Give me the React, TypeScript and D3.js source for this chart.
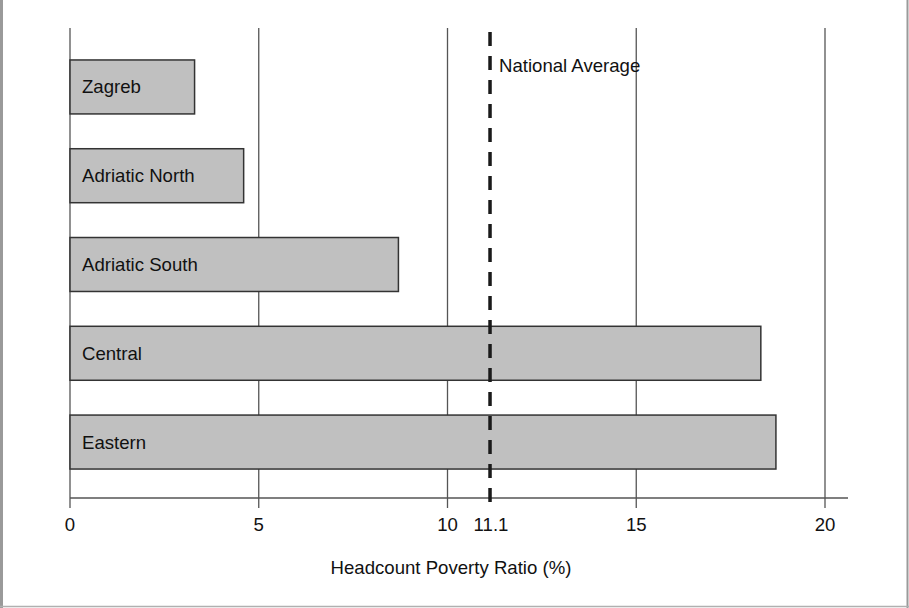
import React from 'react';
import * as d3 from 'd3';

const regions = ["Zagreb", "Adriatic North", "Adriatic South", "Central", "Eastern"];
const povertyRatio = [3.3, 4.6, 8.7, 18.3, 18.7];
const tickValues = [0, 5, 10, 11.1, 15, 20];
const gridValues = [0, 5, 10, 15, 20];
const nationalAverage = 11.1;

const W = 909;
const H = 608;
const FONT = "'Liberation Sans', Arial, sans-serif";
const FS = 18.6;

const App = () => {
    const xScale = d3.scaleLinear().domain([0, 20]).range([70, 825]);
    const yScale = d3.scaleBand<string>()
        .domain(regions)
        .range([28, 501])
        .paddingInner(0.392)
        .paddingOuter(0.36);

    const axisY = 498;
    const gridTop = 28;
    const gridBottom = 508;
    const avgX = xScale(nationalAverage) + 1;

    return (
        <div style={{position: "absolute", top: 0, left: 0}}>
            <svg width={W} height={H} style={{display: "block", background: "white"}}>
                {/* frame */}
                <line x1={1.5} y1={0} x2={1.5} y2={H} stroke="#9a9a9a" strokeWidth={3}/>
                <line x1={907.5} y1={0} x2={907.5} y2={H} stroke="#9a9a9a" strokeWidth={2}/>
                <line x1={0} y1={606.5} x2={W} y2={606.5} stroke="#b0b0b0" strokeWidth={1.5}/>

                {/* vertical grid */}
                {gridValues.map(v => (
                    <line key={"g" + v}
                        x1={xScale(v)} x2={xScale(v)}
                        y1={gridTop} y2={gridBottom}
                        stroke="#555" strokeWidth={1.3}/>
                ))}
                <line x1={xScale(0)} x2={848} y1={axisY} y2={axisY} stroke="#555" strokeWidth={1.3}/>

                {/* bars */}
                {regions.map((r, i) => (
                    <g key={r}>
                        <rect
                            x={xScale(0)}
                            y={yScale(r)}
                            width={xScale(povertyRatio[i]) - xScale(0)}
                            height={yScale.bandwidth()}
                            fill="#c0c0c0"
                            stroke="#333"
                            strokeWidth={1.5}/>
                        <text
                            x={xScale(0) + 12}
                            y={(yScale(r) as number) + yScale.bandwidth() / 2}
                            dy="0.35em"
                            fontFamily={FONT}
                            fontSize={FS}
                            fill="#111">{r}</text>
                    </g>
                ))}

                {/* national average */}
                <line x1={avgX} x2={avgX} y1={32} y2={gridBottom}
                    stroke="#1a1a1a" strokeWidth={3.5} strokeDasharray="14,10"/>
                <text x={avgX + 9} y={72} fontFamily={FONT} fontSize={FS} fill="#111">National Average</text>

                {/* tick labels */}
                {tickValues.map(v => (
                    <text key={"t" + v}
                        x={xScale(v) + (v === nationalAverage ? 2 : 0)}
                        y={531}
                        textAnchor="middle"
                        fontFamily={FONT}
                        fontSize={FS}
                        fill="#111">{v}</text>
                ))}

                <text x={451} y={574} textAnchor="middle" fontFamily={FONT} fontSize={FS} fill="#111">
                    Headcount Poverty Ratio (%)
                </text>
            </svg>
        </div>
    );
};

export default App;
